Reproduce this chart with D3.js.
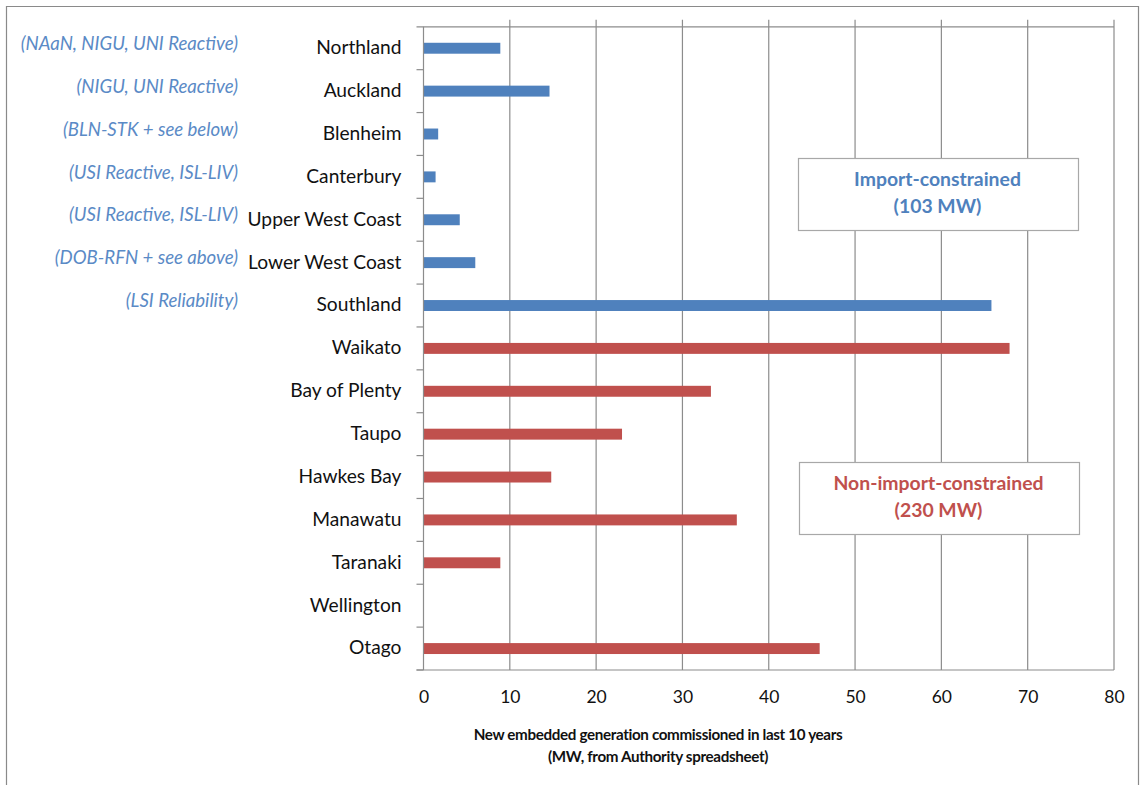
<!DOCTYPE html>
<html>
<head>
<meta charset="utf-8">
<script src="https://cdn.jsdelivr.net/npm/d3@7"></script>
<style>
  html, body { margin: 0; padding: 0; background: #fff; }
  svg { display: block; font-family: Lato, "Open Sans", sans-serif; }
</style>
</head>
<body>
<svg id="chart" width="1140" height="785"></svg>
<script>
// Regions, in display order (top to bottom)
const regions = ["Northland", "Auckland", "Blenheim", "Canterbury", "Upper West Coast",
  "Lower West Coast", "Southland", "Waikato", "Bay of Plenty", "Taupo", "Hawkes Bay",
  "Manawatu", "Taranaki", "Wellington", "Otago"];

// New embedded generation commissioned in last 10 years (MW)
const mwValues = [8.9, 14.6, 1.7, 1.4, 4.2, 6.0, 65.8, 67.9, 33.3, 23.0, 14.8, 36.3, 8.9, 0, 45.9];

// Which group each region belongs to
const groups = ["import", "import", "import", "import", "import", "import", "import",
  "non", "non", "non", "non", "non", "non", "non", "non"];

// Constraint notes for the import-constrained regions
const notes = ["(NAaN, NIGU, UNI Reactive)", "(NIGU, UNI Reactive)", "(BLN-STK + see below)",
  "(USI Reactive, ISL-LIV)", "(USI Reactive, ISL-LIV)", "(DOB-RFN + see above)", "(LSI Reliability)"];

const xTicks = [0, 10, 20, 30, 40, 50, 60, 70, 80];

const groupLabels = [
  { key: "import", lines: ["Import-constrained", "(103 MW)"] },
  { key: "non", lines: ["Non-import-constrained", "(230 MW)"] }
];

const colors = { import: "#4f81bd", non: "#c0504d" };
const gridColor = "#8c8c8c";

const svg = d3.select("#chart");

// Outer frame
svg.append("path")
  .attr("d", "M6.5,790 V6.5 H1138.5 V790")
  .attr("fill", "none").attr("stroke", "#8a8a8a").attr("stroke-width", 1.2);

const plot = { left: 423.5, right: 1114, top: 26.8, bottom: 670 };

const x = d3.scaleLinear().domain([0, 80]).range([plot.left, plot.right]);
const y = d3.scaleBand().domain(regions).range([plot.top, plot.bottom])
  .paddingInner(0.745).paddingOuter(0.3725);
const slot = d3.scaleBand().domain(regions).range([plot.top, plot.bottom]);

// Vertical gridlines
svg.append("g").selectAll("line").data(xTicks.slice(1)).join("line")
  .attr("x1", d => x(d)).attr("x2", d => x(d))
  .attr("y1", plot.top - 7).attr("y2", plot.bottom)
  .attr("stroke", gridColor).attr("stroke-width", 1.2);

// Top border of the plot area
svg.append("line")
  .attr("x1", plot.left - 7).attr("x2", plot.right)
  .attr("y1", plot.top).attr("y2", plot.top)
  .attr("stroke", gridColor).attr("stroke-width", 1.2);

// Bars
svg.append("g").selectAll("rect").data(regions).join("rect")
  .attr("x", x(0))
  .attr("y", d => y(d))
  .attr("width", (d, i) => x(mwValues[i]) - x(0))
  .attr("height", y.bandwidth())
  .attr("fill", (d, i) => colors[groups[i]]);

// Category axis (left) with ticks between categories
const yAxisG = svg.append("g");
yAxisG.append("line")
  .attr("x1", plot.left).attr("x2", plot.left)
  .attr("y1", plot.top).attr("y2", plot.bottom)
  .attr("stroke", gridColor).attr("stroke-width", 1.2);
yAxisG.selectAll("line.tick").data(regions).join("line")
  .attr("class", "tick")
  .attr("x1", plot.left - 7).attr("x2", plot.left)
  .attr("y1", d => slot(d) + slot.bandwidth()).attr("y2", d => slot(d) + slot.bandwidth())
  .attr("stroke", gridColor).attr("stroke-width", 1.2);
yAxisG.selectAll("text").data(regions).join("text")
  .attr("x", plot.left - 22)
  .attr("y", d => slot(d) + slot.bandwidth() / 2 - 1)
  .attr("dy", "0.36em")
  .attr("text-anchor", "end")
  .attr("font-size", 19.2)
  .attr("fill", "#111")
  .text(d => d);

// Notes beside the import-constrained regions
svg.append("g").selectAll("text").data(notes).join("text")
  .attr("x", 238)
  .attr("y", (d, i) => slot(regions[i]) + slot.bandwidth() / 2 - 5)
  .attr("dy", "0.36em")
  .attr("text-anchor", "end")
  .attr("font-size", 18.6)
  .attr("font-style", "italic")
  .attr("fill", "#5a8ac6")
  .text(d => d);

// Value axis (bottom)
const xAxis = d3.axisBottom(x).tickValues(xTicks).tickSize(0).tickPadding(21);
const xAxisG = svg.append("g")
  .attr("transform", `translate(0,${plot.bottom})`)
  .call(xAxis);
xAxisG.select(".domain").remove();
xAxisG.append("line")
  .attr("x1", plot.left - 7).attr("x2", plot.right)
  .attr("stroke", gridColor).attr("stroke-width", 1.2);
xAxisG.selectAll(".tick text")
  .attr("font-family", "Lato, 'Open Sans', sans-serif")
  .attr("font-size", 17.5)
  .attr("fill", "#111");

// Axis title
const title = svg.append("text")
  .attr("text-anchor", "middle")
  .attr("font-weight", "bold")
  .attr("font-size", 15.2)
  .attr("letter-spacing", -0.35)
  .attr("fill", "#111");
title.append("tspan").attr("x", 658).attr("y", 740)
  .text("New embedded generation commissioned in last 10 years");
title.append("tspan").attr("x", 658).attr("y", 762)
  .text("(MW, from Authority spreadsheet)");

// Group label boxes
const boxes = [
  { x0: 798.5, y0: 158.5, y1: 230.5 },
  { x0: 799.5, y0: 462.5, y1: 534.5 }
];
groupLabels.forEach((g, i) => {
  const b = boxes[i];
  const grp = svg.append("g");
  grp.append("rect")
    .attr("x", b.x0).attr("y", b.y0)
    .attr("width", 280).attr("height", b.y1 - b.y0)
    .attr("fill", "#fff").attr("stroke", "#a8a8a8").attr("stroke-width", 1.2);
  const t = grp.append("text")
    .attr("text-anchor", "middle")
    .attr("font-weight", "bold")
    .attr("font-size", 19.4)
    .attr("fill", colors[g.key]);
  g.lines.forEach((line, j) => {
    t.append("tspan")
      .attr("x", b.x0 + 139)
      .attr("y", b.y0 + 27 + j * 27)
      .text(line);
  });
});
</script>
</body>
</html>
